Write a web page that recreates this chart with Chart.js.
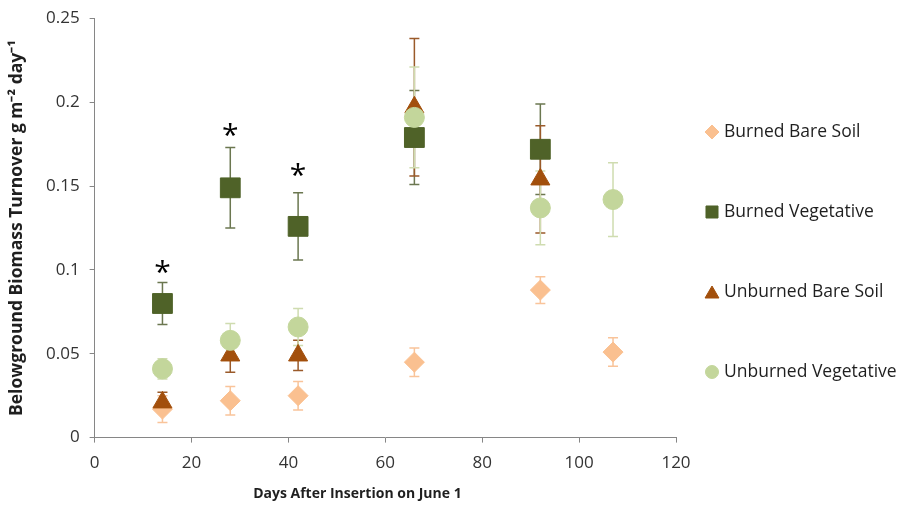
<!DOCTYPE html>
<html>
<head>
<meta charset="utf-8">
<script src="https://cdn.jsdelivr.net/npm/chart.js@4.4.1/dist/chart.umd.min.js"></script>
<style>
  html, body { margin: 0; padding: 0; background: #fff; }
  #wrap { width: 904px; height: 508px; }
</style>
</head>
<body>
<div id="wrap"><canvas id="chart" width="904" height="508"></canvas></div>
<script>
// days after insertion
const daysBBS = [14, 28, 42, 66, 92, 107];
const daysBV  = [14, 28, 42, 66, 92];
const daysUBS = [14, 28, 42, 66, 92];
const daysUV  = [14, 28, 42, 66, 92, 107];

// mean turnover
const burnedBare   = [0.017, 0.022, 0.025, 0.045, 0.088, 0.051];
const burnedVeg    = [0.080, 0.149, 0.126, 0.179, 0.172];
const unburnedBare = [0.021, 0.049, 0.049, 0.197, 0.154];
const unburnedVeg  = [0.041, 0.058, 0.066, 0.191, 0.137, 0.142];

// +/- error
const errBBS = [0.008, 0.0085, 0.0085, 0.0085, 0.008, 0.0085];
const errBV  = [0.0125, 0.024, 0.020, 0.028, 0.027];
const errUBS = [0.006, 0.010, 0.009, 0.041, 0.032];
const errUV  = [0.006, 0.010, 0.011, 0.030, 0.022, 0.022];

// significance asterisks
const starDays = [14, 28, 42];
const starVals = [0.102, 0.184, 0.160];

const xTicks = [0, 20, 40, 60, 80, 100, 120];
const yTicks = [0, 0.05, 0.1, 0.15, 0.2, 0.25];

const xTitle = 'Days After Insertion on June 1';

const pts = (xs, ys, es) => xs.map((x, i) => ({ x, y: ys[i], err: es[i] }));

const FONT = "'Open Sans', 'Liberation Sans', sans-serif";

const errorBars = {
  id: 'errorBars',
  beforeDatasetsDraw(chart) {
    const { ctx, scales: { x, y } } = chart;
    ctx.save();
    chart.data.datasets.forEach(ds => {
      ctx.strokeStyle = ds.errColor;
      ctx.lineWidth = 1.5;
      ds.data.forEach(p => {
        const px = x.getPixelForValue(p.x);
        const top = y.getPixelForValue(p.y + p.err);
        const bot = y.getPixelForValue(p.y - p.err);
        ctx.beginPath();
        ctx.moveTo(px, top); ctx.lineTo(px, bot);
        ctx.moveTo(px - 5, top); ctx.lineTo(px + 5, top);
        ctx.moveTo(px - 5, bot); ctx.lineTo(px + 5, bot);
        ctx.stroke();
      });
    });
    ctx.restore();
  },
  afterDatasetsDraw(chart) {
    const { ctx, scales: { x, y } } = chart;
    ctx.save();
    ctx.fillStyle = '#000';
    ctx.font = '30px ' + FONT;
    ctx.textAlign = 'center';
    ctx.textBaseline = 'middle';
    starDays.forEach((d, i) => {
      ctx.fillText('*', x.getPixelForValue(d), y.getPixelForValue(starVals[i]) + 7);
    });
    ctx.restore();
  }
};

// x-axis title sits a little left of centre, as in the original
const bottomTitle = {
  id: 'bottomTitle',
  afterDraw(chart) {
    const { ctx, chartArea } = chart;
    ctx.save();
    ctx.font = 'bold 14px ' + FONT;
    ctx.fillStyle = '#1f1f1f';
    ctx.textAlign = 'center';
    ctx.textBaseline = 'middle';
    ctx.fillText(xTitle, chartArea.left + (chartArea.right - chartArea.left) * 0.452, chart.height - 14);
    ctx.restore();
  }
};

const sideLegend = {
  id: 'sideLegend',
  afterDraw(chart) {
    const { ctx, chartArea } = chart;
    const mid = chart.height / 2 - 2;
    const n = chart.data.datasets.length;
    ctx.save();
    ctx.font = '17.5px ' + FONT;
    ctx.textBaseline = 'middle';
    ctx.textAlign = 'left';
    chart.data.datasets.forEach((ds, i) => {
      const cy = mid + (i - (n - 1) / 2) * 80;
      const mx = chartArea.right + 36;
      const r = ds.pointStyle === 'rect' ? 8.5 : ds.pointStyle === 'triangle' ? 8 : ds.pointStyle === 'rectRot' ? 7 : 6.5;
      ctx.fillStyle = ds.backgroundColor;
      ctx.strokeStyle = ds.backgroundColor;
      Chart.helpers.drawPoint(ctx, { pointStyle: ds.pointStyle, radius: r, borderWidth: 1 }, mx, cy + (ds.pointStyle === 'triangle' ? 2 : 0));
      ctx.fillStyle = '#1f1f1f';
      ctx.fillText(ds.label, mx + 12, cy);
    });
    ctx.restore();
  }
};

new Chart(document.getElementById('chart'), {
  type: 'scatter',
  data: {
    datasets: [
      { label: 'Burned Bare Soil', data: pts(daysBBS, burnedBare, errBBS), pointStyle: 'rectRot', pointRadius: 10,
        backgroundColor: '#FAC090', borderColor: '#FAC090', errColor: '#F9C49A', order: 4 },
      { label: 'Burned Vegetative', data: pts(daysBV, burnedVeg, errBV), pointStyle: 'rect', pointRadius: 14,
        backgroundColor: '#4F6228', borderColor: '#4F6228', errColor: '#6B7750', order: 3 },
      { label: 'Unburned Bare Soil', data: pts(daysUBS, unburnedBare, errUBS), pointStyle: 'triangle', pointRadius: 11,
        backgroundColor: '#A24F0C', borderColor: '#A24F0C', errColor: '#9A5A2A', order: 2 },
      { label: 'Unburned Vegetative', data: pts(daysUV, unburnedVeg, errUV), pointStyle: 'circle', pointRadius: 10,
        backgroundColor: '#C3D69B', borderColor: '#C3D69B', errColor: '#CFDCB0', order: 1 }
    ]
  },
  options: {
    responsive: false,
    animation: false,
    layout: { padding: { top: 4, right: 228, bottom: 25, left: 3 } },
    plugins: { legend: { display: false }, tooltip: { enabled: false } },
    elements: { point: { borderWidth: 1, hoverRadius: 10 } },
    scales: {
      x: {
        type: 'linear', min: 0, max: 120,
        afterBuildTicks: s => { s.ticks = xTicks.map(v => ({ value: v })); },
        ticks: { color: '#333', font: { family: FONT, size: 17 }, padding: 10 },
        grid: { drawOnChartArea: false, drawTicks: true, tickLength: 5, color: '#868686' },
        border: { color: '#868686', width: 1 },
        title: { display: false }
      },
      y: {
        type: 'linear', min: 0, max: 0.25,
        afterBuildTicks: s => { s.ticks = yTicks.map(v => ({ value: v })); },
        ticks: { color: '#333', font: { family: FONT, size: 17, lineHeight: 1 }, padding: 10, callback: v => String(v) },
        grid: { drawOnChartArea: false, drawTicks: true, tickLength: 5, color: '#868686' },
        border: { color: '#868686', width: 1 },
        title: { display: true, text: 'Belowground Biomass Turnover g m\u207B\u00B2 day\u207B\u00B9', color: '#1f1f1f',
                 font: { family: FONT, size: 17.5, weight: 'bold' }, padding: { bottom: 8 } }
      }
    }
  },
  plugins: [errorBars, bottomTitle, sideLegend]
});
</script>
</body>
</html>
